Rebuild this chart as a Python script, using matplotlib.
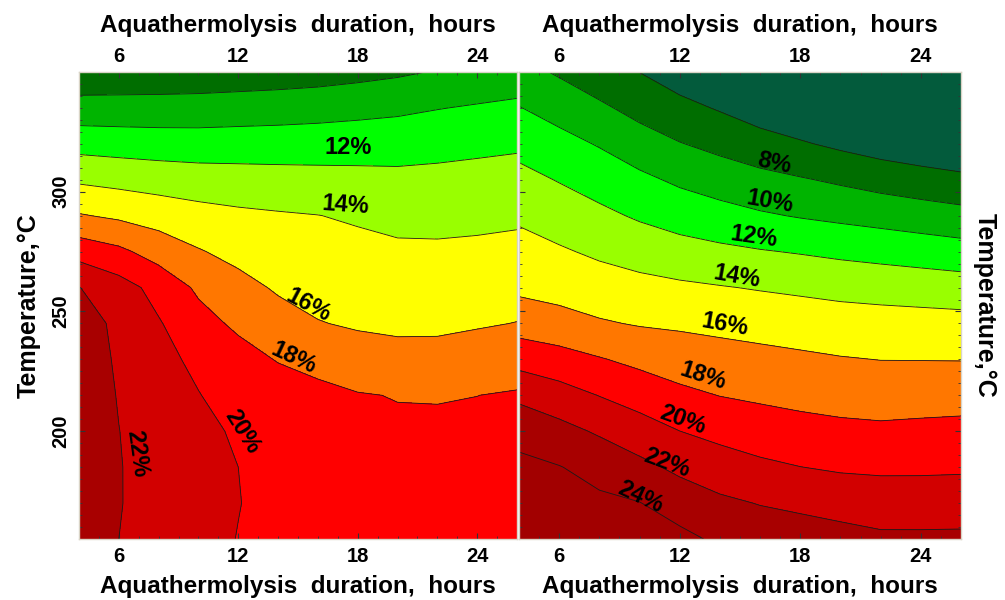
import numpy as np
import matplotlib
matplotlib.use('Agg')
import matplotlib.pyplot as plt
from matplotlib.ticker import MultipleLocator, NullLocator

plt.rcParams['font.family'] = ['Liberation Sans', 'DejaVu Sans']
plt.rcParams['font.weight'] = 'bold'

# grid: durations (hours) x temperatures (deg C)
durations = [4, 6, 8, 10, 12, 14, 16, 18, 20, 22, 24, 26]
temperatures = [155, 170, 185, 200, 215, 230, 245, 260, 275, 290, 305, 320, 335, 350]

# yield, %, one row per temperature (left panel)
left_yield = [
    [23.0, 22.0, 21.3, 20.6, 19.95, 19.6, 19.5, 19.4, 19.35, 19.35, 19.3, 19.35],
    [23.0, 22.07, 21.4, 20.72, 20.05, 19.45, 19.25, 19.06, 19.0, 18.99, 18.98, 19.05],
    [23.0, 22.07, 21.38, 20.69, 20.0, 19.35, 19.0, 18.75, 18.64, 18.63, 18.65, 18.75],
    [23.0, 22.02, 21.28, 20.55, 19.72, 19.2, 18.75, 18.45, 18.29, 18.27, 18.32, 18.45],
    [22.95, 21.92, 21.0, 20.07, 19.18, 19.0, 18.56, 18.11, 17.93, 17.91, 17.99, 18.16],
    [22.9, 21.79, 20.58, 19.57, 18.74, 17.89, 17.32, 16.84, 16.58, 16.59, 16.86, 17.1],
    [22.8, 21.63, 20.15, 18.71, 17.63, 16.78, 16.08, 15.79, 15.66, 15.67, 15.84, 16.04],
    [22.05, 20.81, 19.36, 17.67, 16.63, 15.77, 15.37, 15.15, 14.99, 14.98, 15.11, 15.27],
    [19.22, 18.42, 17.17, 16.14, 15.43, 14.97, 14.7, 14.52, 14.32, 14.29, 14.37, 14.5],
    [16.15, 15.67, 15.16, 14.69, 14.37, 14.18, 14.03, 13.77, 13.48, 13.46, 13.55, 13.68],
    [13.71, 13.41, 13.14, 12.93, 12.82, 12.73, 12.64, 12.56, 12.47, 12.53, 12.63, 12.75],
    [11.28, 11.12, 11.0, 10.94, 10.98, 11.0, 11.06, 11.13, 11.2, 11.38, 11.57, 11.73],
    [8.76, 8.77, 8.78, 8.83, 8.95, 9.07, 9.21, 9.41, 9.62, 9.93, 10.18, 10.41],
    [6.6, 6.65, 6.7, 6.75, 6.85, 6.96, 7.13, 7.4, 7.71, 8.12, 8.56, 8.87],
]

# yield, %, one row per temperature (right panel)
right_yield = [
    [25.6, 25.3, 25.0, 24.65, 24.5, 23.66, 23.14, 23.08, 22.72, 22.35, 22.35, 22.37],
    [25.0, 24.7, 24.36, 24.05, 23.12, 22.36, 21.92, 21.55, 21.22, 21.01, 21.0, 21.04],
    [24.4, 24.07, 23.36, 22.5, 21.58, 20.93, 20.39, 20.02, 19.77, 19.68, 19.69, 19.74],
    [23.45, 22.62, 21.76, 20.86, 20.01, 19.44, 18.99, 18.68, 18.46, 18.35, 18.45, 18.54],
    [21.55, 20.8, 19.95, 19.2, 18.44, 17.96, 17.69, 17.45, 17.26, 17.14, 17.21, 17.27],
    [19.32, 18.77, 18.13, 17.52, 17.04, 16.77, 16.55, 16.33, 16.11, 15.97, 15.96, 15.94],
    [17.1, 16.71, 16.19, 15.86, 15.71, 15.5, 15.28, 15.07, 14.87, 14.76, 14.71, 14.66],
    [15.63, 15.3, 14.9, 14.58, 14.33, 14.1, 13.87, 13.66, 13.44, 13.29, 13.13, 12.94],
    [14.69, 14.22, 13.68, 13.2, 12.74, 12.41, 12.12, 11.87, 11.58, 11.32, 11.06, 10.8],
    [13.71, 13.07, 12.44, 11.76, 11.18, 10.71, 10.23, 9.87, 9.57, 9.28, 8.97, 8.65],
    [12.58, 11.9, 11.17, 10.42, 9.67, 9.07, 8.57, 8.16, 7.71, 7.23, 6.83, 6.47],
    [11.37, 10.63, 9.86, 8.89, 8.08, 7.46, 6.81, 6.2, 5.61, 5.06, 4.65, 4.3],
    [10.07, 9.26, 8.34, 7.37, 6.56, 5.83, 4.97, 4.4, 4.3, 4.25, 4.2, 4.15],
    [8.66, 7.77, 6.81, 5.98, 5.0, 4.7, 4.4, 4.2, 4.15, 4.12, 4.1, 4.05],
]

levels = [4, 6, 8, 10, 12, 14, 16, 18, 20, 22, 24, 26]
band_colors = ['#035b3c', '#006e00', '#00b400', '#00ff00', '#99ff00', '#ffff00',
               '#ff7700', '#ff0000', '#d20000', '#a80000', '#a20000']

# contour label placement (duration, temperature, text, angle)
left_labels = [(17.5, 318.5, '12%', 0), (17.4, 294.5, '14%', -4),
               (15.5, 252.7, '16%', -28), (14.8, 230.6, '18%', -25),
               (12.2, 199.7, '20%', -58), (6.9, 190.5, '22%', -82)]
right_labels = [(16.7, 312.0, '8%', -12), (16.5, 295.7, '10%', -10),
                (15.7, 281.1, '12%', -8), (14.85, 264.4, '14%', -10),
                (14.25, 244.3, '16%', -10), (13.15, 223.0, '18%', -18),
                (12.15, 204.7, '20%', -20), (11.35, 186.7, '22%', -20),
                (10.05, 172.5, '24%', -25)]

xtitle = 'Aquathermolysis  duration,  hours'
ytitle = 'Temperature,\u00b0C'
xticks = [6, 12, 18, 24]

fig = plt.figure(figsize=(10.05, 6.0), dpi=100)
ax1 = fig.add_axes([79 / 1005, 61 / 600, 438 / 1005, 467 / 600])
ax2 = fig.add_axes([519 / 1005, 61 / 600, 442 / 1005, 467 / 600])


def draw_panel(ax, values, labels):
    z = np.array(values)
    ax.contourf(durations, temperatures, z, levels=levels, colors=band_colors)
    ax.contour(durations, temperatures, z, levels=levels, colors='#1a1a1a', linewidths=0.6)
    for x, t, txt, ang in labels:
        ax.text(x, t, txt, rotation=ang, ha='center', va='center', fontsize=17,
                fontweight='bold', fontstyle='normal', color='black')
    ax.set_xlim(4, 26)
    ax.set_ylim(155, 350)
    ax.set_xticks(xticks)
    ax.xaxis.set_minor_locator(MultipleLocator(1))
    ax.set_yticks([200, 250, 300])
    ax.yaxis.set_minor_locator(MultipleLocator(5))
    ax.tick_params(which='both', direction='in', colors='#333333', labelcolor='black',
                   top=True, bottom=True, labeltop=False, labelbottom=True)
    ax.tick_params(which='major', length=4, width=0.8)
    ax.tick_params(which='minor', length=2.5, width=0.6)
    ax.tick_params(axis='x', labelsize=14.5, pad=6)
    for s in ax.spines.values():
        s.set_color('#d9d4c6')
        s.set_linewidth(1.0)
    ax.set_xlabel(xtitle, fontsize=17.5, fontweight='bold', labelpad=6)

    # top tick labels and title
    top = ax.secondary_xaxis('top')
    top.set_xticks(xticks)
    top.xaxis.set_minor_locator(NullLocator())
    top.tick_params(axis='x', length=0, pad=4, labelsize=14.5)
    top.spines['top'].set_visible(False)
    ax.text(0.5, 1.099, xtitle, transform=ax.transAxes, ha='center', va='center',
            fontsize=17.5, fontweight='bold')


draw_panel(ax1, left_yield, left_labels)
draw_panel(ax2, right_yield, right_labels)

ax1.tick_params(axis='y', which='both', left=True, right=False, labelleft=True,
                labelsize=14.5, labelrotation=90, pad=6)
for lab in ax1.get_yticklabels():
    lab.set_va('center')
ax1.set_ylabel(ytitle, fontsize=18, fontweight='bold', labelpad=8)

ax2.tick_params(axis='y', which='both', left=True, right=True, labelleft=False)
ax2.yaxis.set_label_position('right')
ax2.set_ylabel(ytitle, fontsize=18, fontweight='bold', rotation=270, labelpad=26)

fig.savefig('out.png', dpi=100)
